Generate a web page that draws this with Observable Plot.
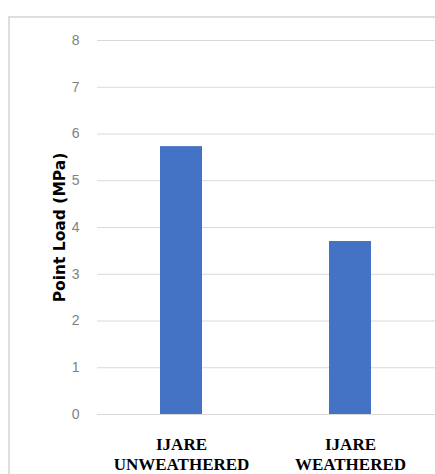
<!DOCTYPE html>
<html>
<head>
<meta charset="utf-8">
<script src="https://cdn.jsdelivr.net/npm/d3@7"></script>
<script src="https://cdn.jsdelivr.net/npm/@observablehq/plot@0.6"></script>
<style>
  html, body { margin: 0; padding: 0; background: #fff; }
  #wrap { position: relative; width: 435px; height: 474px; overflow: hidden; }
  #border { position: absolute; left: 8px; top: 16px; width: 500px; height: 500px;
            border-left: 2px solid #dedede; border-top: 2px solid #dedede; pointer-events: none; }
  #wrap svg { position: absolute; left: 0; top: 0; }
</style>
</head>
<body>
<div id="wrap"><div id="border"></div></div>
<script>
const categories = ["IJARE\nUNWEATHERED", "IJARE\nWEATHERED"];
const values = [5.73, 3.70];
const yTicks = [0, 1, 2, 3, 4, 5, 6, 7, 8];
const yLabel = "Point Load (MPa)";

const data = categories.map((c, i) => ({category: c, value: values[i]}));

const chart = Plot.plot({
  width: 435,
  height: 474,
  marginLeft: 97,
  marginRight: 0,
  marginTop: 40,
  marginBottom: 60,
  style: {background: "transparent", overflow: "visible"},
  x: {domain: categories, paddingInner: 0.75, paddingOuter: 0.375, label: null},
  y: {domain: [0, 8], label: null},
  marks: [
    Plot.gridY(yTicks, {stroke: "#d9d9d9", strokeOpacity: 1, strokeWidth: 1}),
    Plot.barY(data, {x: "category", y: "value", fill: "#4472c4"}),
    Plot.axisY({
      ticks: yTicks, tickSize: 0, tickPadding: 18, label: null,
      fontSize: 14, fontFamily: "Liberation Sans", fill: "#7f7f7f"
    }),
    Plot.axisY({
      ticks: [], label: yLabel, labelAnchor: "center", labelArrow: "none", labelOffset: 44,
      fontSize: 15.5, fontFamily: "DejaVu Sans", fontWeight: "bold", fill: "#000"
    }),
    Plot.axisX({
      tickSize: 0, tickPadding: 21, label: null,
      fontSize: 17, fontFamily: "Liberation Serif", fontWeight: "bold", fill: "#000",
      lineHeight: 1.18
    })
  ]
});
document.getElementById("wrap").appendChild(chart);
</script>
</body>
</html>
